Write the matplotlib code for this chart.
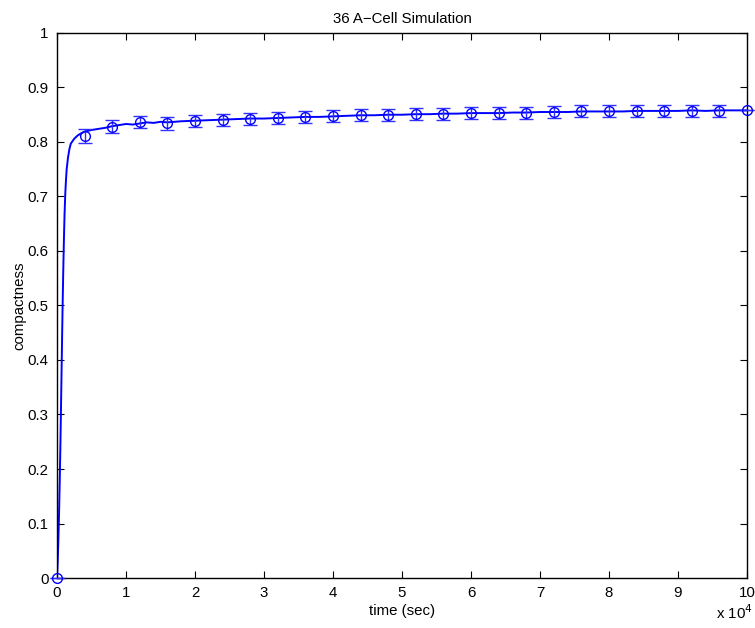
import matplotlib
matplotlib.use("Agg")
import matplotlib.pyplot as plt

plt.rcParams['font.family'] = ['Liberation Sans', 'DejaVu Sans']

# continuous simulation curve (time in sec, compactness)
line_t = [0, 100, 200, 300, 400, 500, 600, 700, 800, 900, 1000, 1100, 1200,
          1300, 1400, 1600, 1800, 2000, 2500, 3000, 3500, 4000, 5000, 6000,
          7000, 8000, 9000, 10000, 11000, 12000, 13000, 14000, 15000, 16000,
          18000, 20000, 22000, 24000, 26000, 28000, 30000, 32000, 34000,
          36000, 38000, 40000, 42000, 44000, 46000, 48000, 50000, 52000,
          54000, 56000, 58000, 60000, 62000, 64000, 66000, 68000, 70000,
          72000, 74000, 76000, 78000, 80000, 82000, 84000, 86000, 88000,
          90000, 92000, 94000, 96000, 98000, 100000]
line_y = [0.0, 0.03, 0.07, 0.12, 0.18, 0.25, 0.33, 0.41, 0.49, 0.56, 0.62,
          0.67, 0.705, 0.73, 0.75, 0.772, 0.787, 0.797, 0.806, 0.812, 0.816,
          0.819, 0.822, 0.824, 0.826, 0.829, 0.831, 0.833, 0.832, 0.834,
          0.836, 0.835, 0.837, 0.836, 0.838, 0.839, 0.840, 0.841, 0.842,
          0.843, 0.843, 0.844, 0.845, 0.846, 0.846, 0.847, 0.848, 0.849,
          0.849, 0.850, 0.850, 0.851, 0.851, 0.852, 0.852, 0.853, 0.853,
          0.853, 0.854, 0.854, 0.855, 0.855, 0.855, 0.856, 0.856, 0.856,
          0.856, 0.857, 0.857, 0.857, 0.857, 0.858, 0.857, 0.858, 0.858,
          0.858]

# error-bar sample points
err_t = [0, 4000, 8000, 12000, 16000, 20000, 24000, 28000, 32000, 36000,
         40000, 44000, 48000, 52000, 56000, 60000, 64000, 68000, 72000,
         76000, 80000, 84000, 88000, 92000, 96000, 100000]
err_y = [0.0, 0.811, 0.828, 0.836, 0.834, 0.838, 0.840, 0.843, 0.844, 0.846,
         0.847, 0.849, 0.850, 0.851, 0.852, 0.853, 0.853, 0.854, 0.855,
         0.856, 0.856, 0.856, 0.856, 0.857, 0.856, 0.858]
err_e = [0.0, 0.012, 0.012, 0.011, 0.012, 0.011, 0.011, 0.011, 0.011, 0.011,
         0.011, 0.011, 0.011, 0.011, 0.011, 0.011, 0.011, 0.011, 0.011,
         0.011, 0.011, 0.011, 0.011, 0.011, 0.011, 0.0]

xticks = [0, 10000, 20000, 30000, 40000, 50000, 60000, 70000, 80000, 90000, 100000]
xticklabels = ['0', '1', '2', '3', '4', '5', '6', '7', '8', '9', '10']
yticks = [0, 0.1, 0.2, 0.3, 0.4, 0.5, 0.6, 0.7, 0.8, 0.9, 1.0]
yticklabels = ['0', '0.1', '0.2', '0.3', '0.4', '0.5', '0.6', '0.7', '0.8', '0.9', '1']

FS = 10.8

fig = plt.figure(figsize=(7.55, 6.28), dpi=100)
ax = fig.add_axes([0.0755, 0.0796, 0.9139, 0.8679])

ax.plot(line_t, line_y, color='#0000ff', lw=1.4)
ax.errorbar(err_t, err_y, yerr=err_e, fmt='o', color='#0000ff', mfc='none',
            mec='#0000ff', ms=7, mew=1.0, ecolor='#3030ff', elinewidth=1.0,
            capsize=4.7, capthick=1.0, clip_on=False, zorder=3)

ax.set_xlim(0, 100000)
ax.set_ylim(0, 1)
ax.set_xticks(xticks)
ax.set_xticklabels(xticklabels)
ax.set_yticks(yticks)
ax.set_yticklabels(yticklabels)
ax.tick_params(direction='in', length=5, width=0.8, top=True, right=True,
               labelsize=FS, pad=6)
for s in ax.spines.values():
    s.set_linewidth(1.0)

ax.set_title('36 A\u2212Cell Simulation', fontsize=FS, pad=7)
ax.set_xlabel('time (sec)', fontsize=FS)
ax.xaxis.set_label_coords(0.5, -0.047)
ax.set_ylabel('compactness', fontsize=FS)
ax.yaxis.set_label_coords(-0.045, 0.5)
fig.text(0.997, 0.014, r'x 10$^{4}$', fontsize=FS, ha='right', va='baseline')

fig.savefig('out.png', dpi=100)
